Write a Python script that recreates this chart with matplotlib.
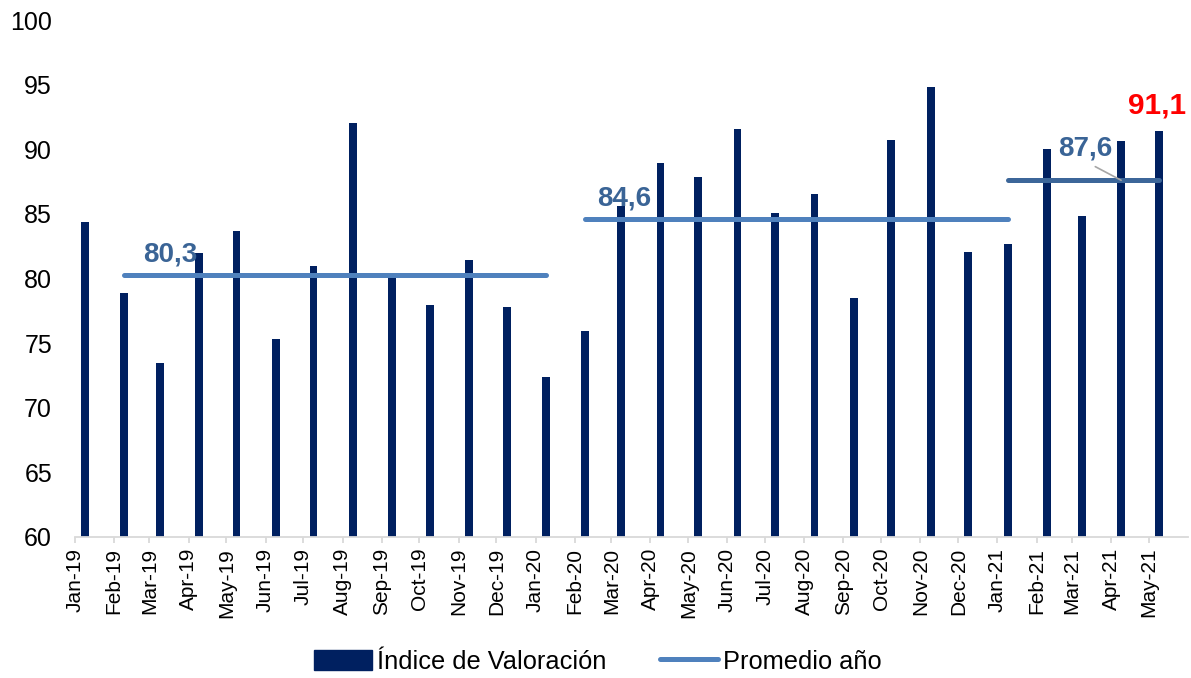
"""Índice de Valoración mensual con promedio anual."""

import matplotlib

matplotlib.use("Agg", force=True)
import matplotlib.dates as mdates
import matplotlib.pyplot as plt
import pandas as pd
from matplotlib.lines import Line2D

# --- data -------------------------------------------------------------------
MONTHS = [
    "Jan-19", "Feb-19", "Mar-19", "Apr-19", "May-19", "Jun-19", "Jul-19",
    "Aug-19", "Sep-19", "Oct-19", "Nov-19", "Dec-19", "Jan-20", "Feb-20",
    "Mar-20", "Apr-20", "May-20", "Jun-20", "Jul-20", "Aug-20", "Sep-20",
    "Oct-20", "Nov-20", "Dec-20", "Jan-21", "Feb-21", "Mar-21", "Apr-21",
    "May-21",
]
INDEX_VALUES = [
    84.35, 78.9, 73.5, 82.0, 83.7, 75.3, 81.0,
    92.05, 80.05, 77.95, 81.4, 77.8, 72.4, 75.9,
    85.6, 88.9, 87.85, 91.6, 85.1, 86.5, 78.5,
    90.75, 94.85, 82.05, 82.7, 90.05, 84.8, 90.65,
    91.4,
]
YEAR_AVG_VALUES = [80.3, 84.6, 87.6]
YEAR_AVG_STARTS = ["Feb-19", "Feb-20", "Jan-21"]
YEAR_AVG_ENDS = ["Jan-20", "Jan-21", "May-21"]
YEAR_AVG_LABELS = ["80,3", "84,6", "87,6"]
LAST_LABEL = "91,1"
Y_TICKS = [60, 65, 70, 75, 80, 85, 90, 95, 100]

BAR_NAME = "Índice de Valoración"
LINE_NAME = "Promedio año"

# --- style ------------------------------------------------------------------
BAR_COLOR = "#002060"
AVG_COLORS = ["#4F81BD", "#4F81BD", "#3C6699"]
LABEL_COLOR = "#3A6496"
AXIS_GRAY = "#D9D9D9"

plt.rcParams["font.family"] = ["Liberation Sans", "DejaVu Sans"]

W, H = 1191, 678
fig = plt.figure(figsize=(W / 100, H / 100), dpi=100)
ax = fig.add_axes([75 / W, 1 - 537 / H, (1188 - 75) / W, (537 - 20) / H])

month_starts = pd.to_datetime(MONTHS, format="%b-%y")
tick_x = mdates.date2num(month_starts)
bar_x = tick_x + 8.0  # bars sit a few days after the month tick
pos = dict(zip(MONTHS, bar_x))

ax.bar(bar_x, INDEX_VALUES, width=6.3, color=BAR_COLOR, zorder=2)

for value, start, end, color in zip(YEAR_AVG_VALUES, YEAR_AVG_STARTS, YEAR_AVG_ENDS, AVG_COLORS):
    ax.plot([pos[start], pos[end]], [value, value], color=color, lw=3.6,
            solid_capstyle="round", zorder=3)

# average labels
label_kw = dict(textcoords="offset pixels", ha="center", va="baseline",
                fontsize=20, fontweight="bold", color=LABEL_COLOR, zorder=5)
ax.annotate(YEAR_AVG_LABELS[0], xy=(pos["Feb-19"], YEAR_AVG_VALUES[0]), xytext=(46, 13), **label_kw)
ax.annotate(YEAR_AVG_LABELS[1], xy=(pos["Feb-20"], YEAR_AVG_VALUES[1]), xytext=(39, 14), **label_kw)
ax.annotate(YEAR_AVG_LABELS[2], xy=(pos["Apr-21"], YEAR_AVG_VALUES[2]), xytext=(-36, 25),
            arrowprops=dict(arrowstyle="-", color="#A6A6A6", lw=1.2, relpos=(0.5, 0),
                            shrinkA=4, shrinkB=0),
            **label_kw)

# last value label
ax.annotate(LAST_LABEL, xy=(bar_x[-1], INDEX_VALUES[-1]), xytext=(-2, 18),
            textcoords="offset pixels", ha="center", va="baseline",
            fontsize=21.5, fontweight="bold", color="#FF0000", zorder=5)

ax.set_ylim(Y_TICKS[0], Y_TICKS[-1])
ax.set_yticks(Y_TICKS)
ax.set_xlim(tick_x[0], mdates.date2num(month_starts[-1] + pd.offsets.MonthBegin(1)))
ax.set_xticks(tick_x)
ax.set_xticklabels(MONTHS, rotation=90)

for side in ("top", "right", "left"):
    ax.spines[side].set_visible(False)
ax.spines["bottom"].set_color(AXIS_GRAY)
ax.spines["bottom"].set_linewidth(1.3)
ax.tick_params(axis="x", length=4.3, width=1.3, color=AXIS_GRAY, pad=3.5,
               labelsize=15, labelcolor="black")
ax.tick_params(axis="y", length=0, pad=16.5, labelsize=18, labelcolor="black")

handles = [
    plt.Rectangle((0, 0), 1, 1, color=BAR_COLOR),
    Line2D([0], [0], color=AVG_COLORS[0], lw=3.6, solid_capstyle="round"),
]
fig.legend(handles, [BAR_NAME, LINE_NAME], loc="center", bbox_to_anchor=(0.502, 0.024),
           ncol=2, frameon=False, fontsize=18.3, handlelength=2.3, handleheight=0.85,
           handletextpad=0.2, columnspacing=2.1, borderpad=0, borderaxespad=0)

fig.savefig("out.png", dpi=100)
plt.close(fig)
